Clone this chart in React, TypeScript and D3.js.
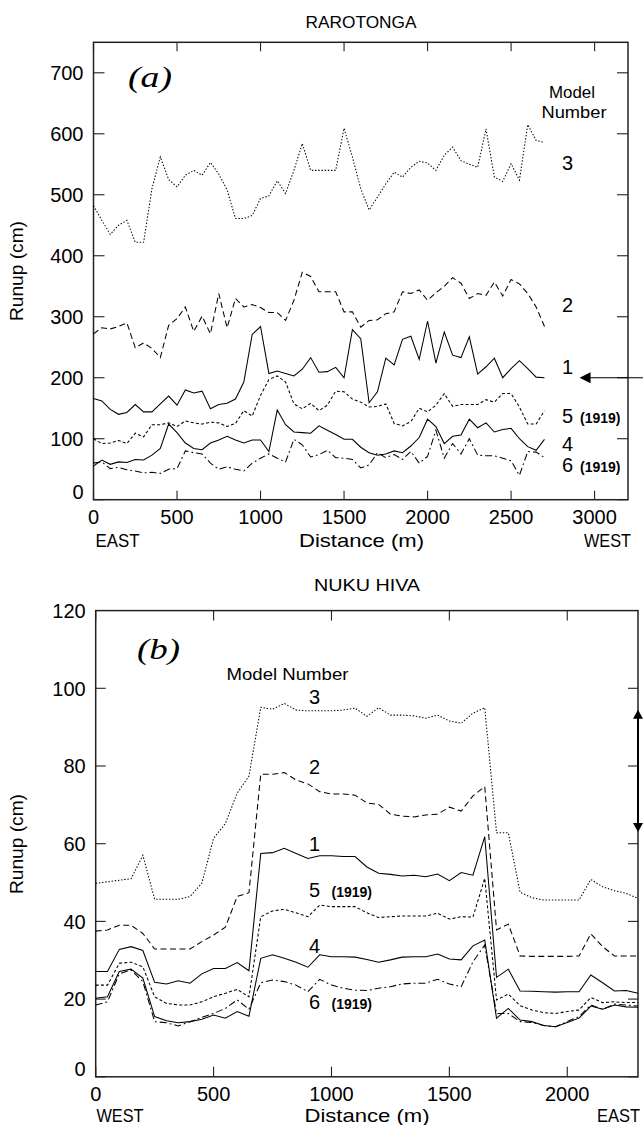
import React from "react";
import * as d3 from "d3";

const W = 643;
const H = 1125;

// ---------- Panel (a) RAROTONGA ----------
const distA = [
  0, 50, 100, 150, 200, 250, 300, 350, 400, 450, 500, 550, 600, 650, 700, 750, 800, 850, 900, 950,
  1000, 1050, 1100, 1150, 1200, 1250, 1300, 1350, 1400, 1450, 1500, 1550, 1600, 1650, 1700, 1750,
  1800, 1850, 1900, 1950, 2000, 2050, 2100, 2150, 2200, 2250, 2300, 2350, 2400, 2450, 2500, 2550,
  2600, 2650, 2700,
];
const a_model3 = [482, 458, 435, 450, 458, 422, 422, 510, 562, 525, 513, 532, 540, 532, 553, 534, 508, 461, 461, 466, 494, 498, 523, 502, 540, 584, 540, 540, 540, 540, 609, 562, 510, 475, 496, 518, 537, 529, 545, 555, 552, 540, 565, 578, 556, 550, 545, 608, 529, 522, 551, 524, 615, 589, 586];
const a_model2 = [272, 282, 280, 284, 290, 249, 257, 248, 233, 286, 297, 316, 276, 301, 272, 338, 282, 330, 316, 320, 315, 307, 307, 294, 327, 373, 366, 341, 341, 341, 308, 308, 283, 294, 295, 305, 308, 341, 338, 344, 327, 339, 350, 364, 355, 330, 338, 335, 357, 334, 361, 354, 338, 316, 284];
const a_model1 = [166, 162, 148, 140, 143, 156, 144, 144, 157, 170, 155, 180, 175, 178, 149, 156, 158, 165, 193, 271, 284, 207, 211, 207, 203, 214, 233, 209, 210, 217, 200, 279, 264, 159, 177, 232, 221, 263, 268, 230, 293, 224, 275, 237, 233, 267, 206, 218, 232, 200, 215, 228, 215, 201, 200];
const a_model5 = [100, 92, 93, 97, 92, 109, 103, 123, 123, 126, 120, 129, 126, 124, 127, 126, 120, 125, 146, 137, 171, 197, 203, 193, 157, 149, 158, 146, 155, 178, 177, 165, 160, 152, 153, 157, 125, 121, 128, 150, 144, 155, 174, 153, 156, 156, 156, 164, 160, 174, 174, 152, 124, 124, 146];
const a_model4 = [55, 65, 58, 62, 61, 66, 65, 73, 84, 124, 110, 93, 84, 82, 93, 98, 104, 98, 93, 98, 98, 79, 147, 123, 111, 110, 109, 121, 114, 107, 99, 99, 86, 77, 73, 75, 80, 77, 88, 102, 132, 120, 92, 104, 106, 132, 118, 126, 111, 115, 117, 100, 87, 81, 99];
const a_model6 = [60, 62, 51, 53, 49, 47, 44, 45, 43, 50, 51, 80, 77, 75, 60, 50, 54, 50, 47, 60, 68, 75, 68, 62, 99, 90, 70, 74, 81, 69, 68, 66, 52, 57, 77, 69, 74, 66, 79, 60, 71, 114, 68, 92, 75, 100, 73, 72, 72, 68, 64, 40, 79, 78, 69];
const a_xTicks = [0, 500, 1000, 1500, 2000, 2500, 3000];
const a_yTicks = [0, 100, 200, 300, 400, 500, 600, 700];

// ---------- Panel (b) NUKU HIVA ----------
const distB = [
  0, 50, 100, 150, 200, 250, 300, 350, 400, 450, 500, 550, 600, 650, 700, 750, 800, 850, 900, 950,
  1000, 1050, 1100, 1150, 1200, 1250, 1300, 1350, 1400, 1450, 1500, 1550, 1600, 1650, 1700, 1750,
  1800, 1850, 1900, 1950, 2000, 2050, 2100, 2150, 2200, 2250, 2300,
];
const b_model3 = [49.8, 50.2, 50.6, 51, 57, 45.7, 45.7, 45.7, 46.4, 49.8, 61.4, 65.2, 73, 77.4, 95.1, 94.6, 96.1, 94.4, 94.2, 94.2, 94.2, 94.4, 94.9, 92.8, 95, 93.1, 93.1, 92.9, 92.3, 93.1, 91.6, 91, 93.6, 95, 62.8, 62.8, 47.5, 46.1, 45.5, 45.5, 45.5, 45.5, 50.8, 48.9, 47.9, 47.2, 45.9];
const b_model2 = [37.5, 37.8, 39, 39, 36.9, 32.9, 32.9, 32.9, 32.9, 34.8, 36.5, 38.5, 46.4, 47.4, 77.9, 77.9, 78.3, 76.4, 75.4, 73.4, 72.8, 72.8, 72.5, 70.5, 70.1, 67.6, 67.1, 66.9, 67.4, 67.6, 69.4, 68.4, 72.3, 74.7, 37.8, 39.3, 31.1, 31, 31, 31, 31, 31.1, 36.8, 33.5, 31.1, 31.1, 31.1];
const b_model1 = [27.1, 27.1, 32.8, 33.5, 32.5, 24.3, 23.9, 24.7, 24.1, 26.5, 27.9, 27.9, 29.4, 27.3, 57.5, 57.7, 58.8, 57.5, 56.2, 56.9, 56.9, 56.7, 56.7, 54, 52.4, 52.1, 51.7, 51.9, 51.5, 52.2, 50.5, 52.6, 51.9, 61.8, 25.6, 27.7, 22.1, 22, 21.9, 21.8, 21.9, 21.9, 26.2, 24.2, 22.1, 22.2, 21.5];
const b_model5 = [23.6, 23.6, 29.2, 29.5, 28.3, 20.6, 18.9, 18.5, 18.5, 19.3, 20.6, 21.5, 22.5, 20.6, 41.2, 42.7, 43.1, 42.2, 41.2, 44.2, 43.8, 43.8, 43.8, 42.2, 41, 41.2, 41.4, 41.4, 41.4, 42.1, 40.6, 41.2, 41.1, 51.1, 19.8, 21.3, 18.3, 17.2, 16.5, 16.3, 16.8, 17.2, 20.4, 19.1, 19.3, 19.1, 19.1];
const b_model4 = [20.2, 20.6, 27.1, 27.7, 25.4, 15.5, 14.4, 13.9, 14.2, 14.8, 15.9, 15.1, 16.8, 15.6, 30.5, 31.4, 30.5, 29.5, 28.2, 31.4, 30.9, 30.9, 30.8, 30.2, 29.5, 30.1, 30.8, 30.9, 30.9, 31.6, 30.3, 30.1, 33.7, 35.2, 15.1, 17.6, 14.6, 14.2, 13.2, 12.9, 14, 15.1, 18.2, 17.4, 18.5, 18, 17.9];
const b_model6 = [18.5, 19.3, 26.5, 27.5, 24.5, 14.2, 13.9, 13.1, 14.2, 15.3, 16.3, 17.6, 19.8, 17.4, 24.2, 24.9, 24.5, 23.6, 21.9, 25.1, 23.6, 22.8, 22.3, 22.2, 22.8, 23.2, 23.9, 24.1, 24.1, 25.1, 23.9, 23.2, 29.6, 33.9, 16.3, 16.3, 14.2, 14, 13.2, 12.9, 14.2, 15.5, 18.5, 17.4, 18.7, 18.5, 18.2];
const b_xTicks = [0, 500, 1000, 1500, 2000];
const b_yTicks = [0, 20, 40, 60, 80, 100, 120];

const STYLE: Record<string, string | undefined> = {
  "1": undefined,
  "2": "6,3.5",
  "3": "1.4,1.8",
  "4": undefined,
  "5": "3,2.2",
  "6": "7,3,1.8,3",
};

const FONT = "'Liberation Sans', Arial, Helvetica, sans-serif";

type Panel = {
  x: d3.ScaleLinear<number, number>;
  y: d3.ScaleLinear<number, number>;
  xTicks: number[];
  yTicks: number[];
  xTickLen: number;
  yTickLen: number;
};

function Frame({ p }: { p: Panel }) {
  const [x0, x1] = p.x.range();
  const [y0, y1] = p.y.range(); // y0 bottom, y1 top
  const yMax = p.y.domain()[1];
  return (
    <g>
      <rect x={x0} y={y1} width={x1 - x0} height={y0 - y1} fill="none" stroke="#222" strokeWidth={1.5} />
      {p.xTicks.map((t) => (
        <g key={"x" + t}>
          <line x1={p.x(t)} x2={p.x(t)} y1={y0} y2={y0 - p.xTickLen} stroke="#222" strokeWidth={1.1} />
          <line x1={p.x(t)} x2={p.x(t)} y1={y1} y2={y1 + p.xTickLen} stroke="#222" strokeWidth={1.1} />
          <text x={p.x(t)} y={y0 + 24} textAnchor="middle" fontSize={20} fontFamily={FONT} fill="#000">
            {t}
          </text>
        </g>
      ))}
      {p.yTicks.map((t) => (
        <g key={"y" + t}>
          {t !== yMax && (
            <>
              <line x1={x0} x2={x0 + p.yTickLen} y1={p.y(t)} y2={p.y(t)} stroke="#222" strokeWidth={1.1} />
              <line x1={x1} x2={x1 - p.yTickLen} y1={p.y(t)} y2={p.y(t)} stroke="#222" strokeWidth={1.1} />
            </>
          )}
          <text
            x={x0 - 10}
            y={p.y(t)}
            dy={t === 0 ? "-0.05em" : "0.36em"}
            textAnchor="end"
            fontSize={20}
            fontFamily={FONT}
            fill="#000"
          >
            {t}
          </text>
        </g>
      ))}
    </g>
  );
}

function Series({ p, xs, ys, model }: { p: Panel; xs: number[]; ys: number[]; model: string }) {
  const gen = d3
    .line<number>()
    .x((_, i) => p.x(xs[i]))
    .y((d) => p.y(d));
  return (
    <path d={gen(ys) || ""} fill="none" stroke="#000" strokeWidth={1.05} strokeDasharray={STYLE[model]} />
  );
}

export default function App() {
  const pa: Panel = {
    x: d3.scaleLinear().domain([0, 3200]).range([93.5, 628]),
    y: d3.scaleLinear().domain([0, 750]).range([499.7, 42.3]),
    xTicks: a_xTicks,
    yTicks: a_yTicks,
    xTickLen: 9,
    yTickLen: 11,
  };
  const pb: Panel = {
    x: d3.scaleLinear().domain([0, 2300]).range([95.7, 638]),
    y: d3.scaleLinear().domain([0, 120]).range([1076.8, 610.6]),
    xTicks: b_xTicks,
    yTicks: b_yTicks,
    xTickLen: 10,
    yTickLen: 10,
  };

  const seriesA: [string, number[]][] = [
    ["3", a_model3],
    ["2", a_model2],
    ["1", a_model1],
    ["5", a_model5],
    ["4", a_model4],
    ["6", a_model6],
  ];
  const seriesB: [string, number[]][] = [
    ["3", b_model3],
    ["2", b_model2],
    ["1", b_model1],
    ["5", b_model5],
    ["4", b_model4],
    ["6", b_model6],
  ];

  // in-plot label anchors (data coords)
  const labA: [string, number, boolean][] = [
    ["3", 552, false],
    ["2", 319, false],
    ["1", 218, false],
    ["5", 137, true],
    ["4", 92, false],
    ["6", 57, true],
  ];
  const labB: [string, number, boolean][] = [
    ["3", 97.8, false],
    ["2", 79.8, false],
    ["1", 59.9, false],
    ["5", 48.1, true],
    ["4", 33.7, false],
    ["6", 19.3, true],
  ];

  const arrowAy = pa.y(200);
  const arrowTipX = pa.x(2910);
  const arrowBx = pb.x(2300);
  const arrowBTop = pb.y(94.5);
  const arrowBBot = pb.y(63);

  const txt = { fontFamily: FONT, fill: "#000" } as const;
  const serif = "'Liberation Serif', 'DejaVu Serif', serif";

  return (
    <svg
      width={W}
      height={H}
      viewBox={`0 0 ${W} ${H}`}
      style={{ position: "absolute", left: 0, top: 0, background: "#fff" }}
    >
      <rect width={W} height={H} fill="#fff" />
      {/* ---------- Panel a ---------- */}
      <text x={361} y={28} textAnchor="middle" fontSize={17} textLength={111} lengthAdjust="spacingAndGlyphs" {...txt}>
        RAROTONGA
      </text>
      <Frame p={pa} />
      {seriesA.map(([m, v]) => (
        <Series key={"a" + m} p={pa} xs={distA} ys={v} model={m} />
      ))}
      <text x={128} y={87} fontSize={29} fontStyle="italic" fontFamily={serif} fill="#000" textLength={44} lengthAdjust="spacingAndGlyphs">
        (a)
      </text>
      <text x={572} y={pa.y(668)} dy="0.35em" textAnchor="middle" fontSize={17} textLength={46} lengthAdjust="spacingAndGlyphs" {...txt}>
        Model
      </text>
      <text x={574} y={pa.y(635)} dy="0.35em" textAnchor="middle" fontSize={17} textLength={65} lengthAdjust="spacingAndGlyphs" {...txt}>
        Number
      </text>
      {labA.map(([m, v, yr]) => (
        <g key={"la" + m}>
          <text x={562} y={pa.y(v)} dy="0.36em" fontSize={20} {...txt}>
            {m}
          </text>
          {yr && (
            <text x={580} y={pa.y(v) + 2} dy="0.36em" fontSize={14} fontWeight="bold" {...txt}>
              (1919)
            </text>
          )}
        </g>
      ))}
      <line x1={arrowTipX + 10} x2={W + 2} y1={arrowAy} y2={arrowAy} stroke="#000" strokeWidth={1.1} />
      <polygon
        points={`${arrowTipX},${arrowAy} ${arrowTipX + 11},${arrowAy - 5.5} ${arrowTipX + 11},${arrowAy + 5.5}`}
        fill="#000"
      />
      <text x={16} y={271} transform="rotate(-90 16 271)" dy="0.35em" textAnchor="middle" fontSize={19} textLength={100} lengthAdjust="spacingAndGlyphs" {...txt}>
        Runup (cm)
      </text>
      <text x={95.5} y={pa.y(0) + 47} fontSize={18} textLength={44} lengthAdjust="spacingAndGlyphs" {...txt}>
        EAST
      </text>
      <text x={361.5} y={pa.y(0) + 47} textAnchor="middle" fontSize={18.5} textLength={125} lengthAdjust="spacingAndGlyphs" {...txt}>
        Distance (m)
      </text>
      <text x={631} y={pa.y(0) + 47} textAnchor="end" fontSize={18} textLength={47} lengthAdjust="spacingAndGlyphs" {...txt}>
        WEST
      </text>

      {/* ---------- Panel b ---------- */}
      <text x={367} y={591} textAnchor="middle" fontSize={17} textLength={106} lengthAdjust="spacingAndGlyphs" {...txt}>
        NUKU HIVA
      </text>
      <Frame p={pb} />
      {seriesB.map(([m, v]) => (
        <Series key={"b" + m} p={pb} xs={distB} ys={v} model={m} />
      ))}
      <text x={137} y={659} fontSize={29} fontStyle="italic" fontFamily={serif} fill="#000" textLength={43} lengthAdjust="spacingAndGlyphs">
        (b)
      </text>
      <text x={287.5} y={pb.y(103.7)} dy="0.35em" textAnchor="middle" fontSize={17} textLength={122} lengthAdjust="spacingAndGlyphs" {...txt}>
        Model Number
      </text>
      {labB.map(([m, v, yr]) => (
        <g key={"lb" + m}>
          <text x={309} y={pb.y(v)} dy="0.36em" fontSize={20} {...txt}>
            {m}
          </text>
          {yr && (
            <text x={331.5} y={pb.y(v) + 2} dy="0.36em" fontSize={14} fontWeight="bold" {...txt}>
              (1919)
            </text>
          )}
        </g>
      ))}
      <line x1={arrowBx} x2={arrowBx} y1={arrowBTop + 8} y2={arrowBBot - 8} stroke="#000" strokeWidth={2} />
      <polygon
        points={`${arrowBx},${arrowBTop} ${arrowBx - 5},${arrowBTop + 9} ${arrowBx + 5},${arrowBTop + 9}`}
        fill="#000"
      />
      <polygon
        points={`${arrowBx},${arrowBBot} ${arrowBx - 5},${arrowBBot - 9} ${arrowBx + 5},${arrowBBot - 9}`}
        fill="#000"
      />
      <text x={16} y={844} transform="rotate(-90 16 844)" dy="0.35em" textAnchor="middle" fontSize={19} textLength={100} lengthAdjust="spacingAndGlyphs" {...txt}>
        Runup (cm)
      </text>
      <text x={96.5} y={pb.y(0) + 45} fontSize={18} textLength={47} lengthAdjust="spacingAndGlyphs" {...txt}>
        WEST
      </text>
      <text x={367} y={pb.y(0) + 45} textAnchor="middle" fontSize={18.5} textLength={125} lengthAdjust="spacingAndGlyphs" {...txt}>
        Distance (m)
      </text>
      <text x={640} y={pb.y(0) + 45} textAnchor="end" fontSize={18} textLength={43} lengthAdjust="spacingAndGlyphs" {...txt}>
        EAST
      </text>
    </svg>
  );
}
